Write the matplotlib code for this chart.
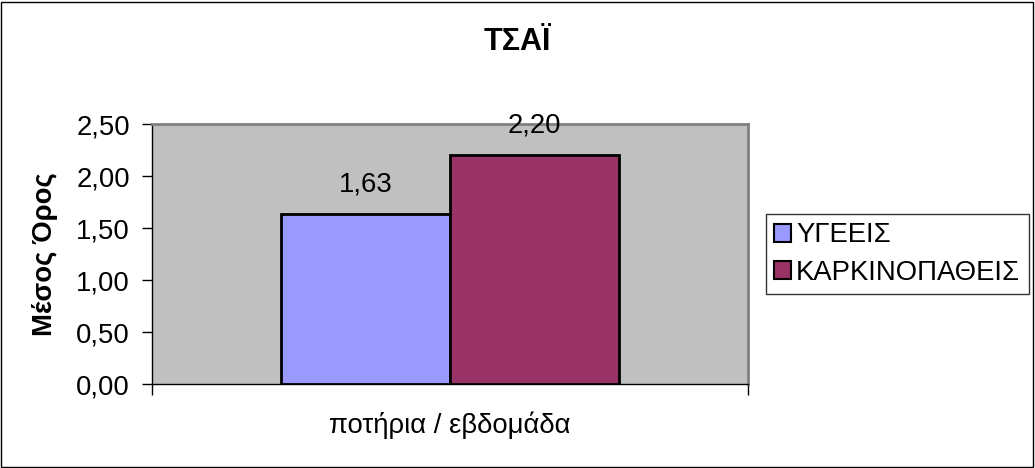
import matplotlib
matplotlib.use("Agg")
import matplotlib.pyplot as plt
from matplotlib.patches import Rectangle

plt.rcParams['font.family'] = ['Liberation Sans', 'DejaVu Sans']

title = "ΤΣΑΪ"
category = "ποτήρια / εβδομάδα"
series_names = ["ΥΓΕΕΙΣ", "ΚΑΡΚΙΝΟΠΑΘΕΙΣ"]
series_values = [1.63, 2.20]
series_colors = ["#9999FF", "#993366"]
y_ticks = [0.0, 0.5, 1.0, 1.5, 2.0, 2.5]
y_label = "Μέσος Όρος"

FS = 19.8
W, H = 1035, 468
fig = plt.figure(figsize=(W / 100, H / 100), dpi=100)
fig.patch.set_facecolor("white")
fig.patches.append(Rectangle((1 / W, 1 / H), (W - 3) / W, (H - 3) / H,
                             transform=fig.transFigure, fill=False,
                             edgecolor="black", linewidth=1.0))

left, right, top, bottom = 152, 748, 124, 384
ax = fig.add_axes([left / W, 1 - bottom / H, (right - left) / W, (bottom - top) / H])
ax.set_facecolor("#C0C0C0")

bar_w = 0.284
offsets = [-bar_w / 2, bar_w / 2]
for name, val, col, off in zip(series_names, series_values, series_colors, offsets):
    ax.bar(off, val, width=bar_w, color=col, edgecolor="black", linewidth=2,
           label=name, zorder=3)
    ax.annotate(f"{val:.2f}".replace(".", ","), xy=(off, val),
                xytext=(0, 30), textcoords="offset pixels",
                ha="center", va="center", fontsize=FS, zorder=4)

ax.set_xlim(-0.5, 0.5)
ax.set_ylim(0, 2.5)
ax.set_yticks(y_ticks)
ax.set_yticklabels([f"{t:.2f}".replace(".", ",") for t in y_ticks], fontsize=FS)
ax.tick_params(axis="y", direction="out", length=7, width=1, pad=9)
ax.set_xticks([0])
ax.set_xticklabels([category], fontsize=FS)
ax.tick_params(axis="x", which="major", length=0, pad=20)
ax.set_xticks([-0.5, 0.5], minor=True)
ax.tick_params(axis="x", which="minor", direction="out", length=8, width=1)

for s in ["top", "right"]:
    ax.spines[s].set_color("#808080")
    ax.spines[s].set_linewidth(2)
for s in ["left", "bottom"]:
    ax.spines[s].set_color("black")
    ax.spines[s].set_linewidth(1)

ax.set_ylabel(y_label, fontsize=FS, fontweight="bold")
ax.yaxis.set_label_coords(45 / W, 1 - 254 / H, transform=fig.transFigure)
ax.yaxis.label.set_va("center")
fig.text(517 / W, 1 - 42 / H, title, ha="center", va="center",
         fontsize=22, fontweight="bold")

leg = ax.legend(loc="center left", bbox_to_anchor=(766 / W, 1 - 254 / H),
                bbox_transform=fig.transFigure, fontsize=FS, frameon=True,
                fancybox=False, edgecolor="black", borderpad=0.3,
                handlelength=0.6, handleheight=0.6, handletextpad=0.2,
                labelspacing=0.4, borderaxespad=0)
leg.get_frame().set_linewidth(1)
for h in leg.legend_handles:
    h.set_linewidth(1.5)

fig.savefig("out.png", dpi=100)
